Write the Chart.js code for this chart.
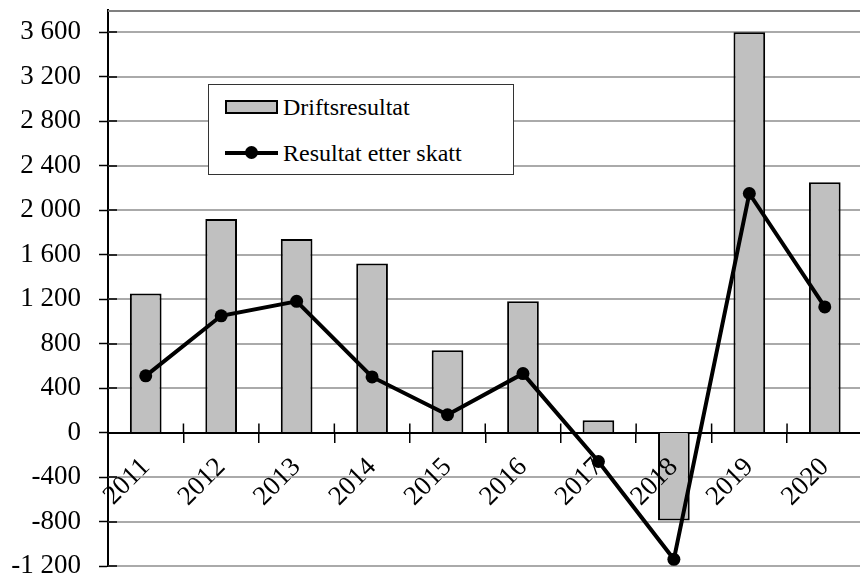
<!DOCTYPE html>
<html><head><meta charset="utf-8">
<script src="https://cdn.jsdelivr.net/npm/chart.js@4/dist/chart.umd.min.js"></script>
<style>
html,body{margin:0;padding:0;background:#fff;overflow:hidden;}
#wrap{position:relative;width:860px;height:577px;overflow:hidden;}
#c{position:absolute;left:0;top:0;}
#legend{position:absolute;left:208px;top:84px;width:306px;height:91px;border:1.5px solid #333;background:#fff;box-sizing:border-box;font-family:"Liberation Serif","Times New Roman",serif;font-size:24px;color:#000;}
.item{position:absolute;left:16px;height:30px;display:flex;align-items:center;white-space:nowrap;}
.sw{position:relative;width:53px;height:30px;margin-right:5px;}
.sw.bar::after{content:"";position:absolute;left:0;top:8px;width:53px;height:14px;box-sizing:border-box;border:2px solid #000;background:#c0c0c0;}
.sw.line::before{content:"";position:absolute;left:0;top:13px;width:53px;height:4px;background:#000;}
.sw.line::after{content:"";position:absolute;left:20px;top:8px;width:13px;height:13px;border-radius:50%;background:#000;}
</style>
</head><body>
<div id="wrap"><canvas id="c" width="869" height="577"></canvas><div id="legend"></div></div>
<script>
const years = ['2011','2012','2013','2014','2015','2016','2017','2018','2019','2020'];
const driftsresultat = [1250, 1920, 1740, 1520, 740, 1180, 110, -790, 3600, 2250];
const resultatEtterSkatt = [510, 1050, 1180, 500, 160, 530, -260, -1140, 2150, 1130];
const yMin = -1200, yMax = 3800, yStep = 400, yLabelMax = 3600;

const serif = '"Liberation Serif","Times New Roman",serif';
function fmt(v){
  const s = Math.abs(v).toString().replace(/\B(?=(\d{3})+(?!\d))/g, ' ');
  return (v < 0 ? '-' : '') + s;
}

const axisDecor = {
  id: 'axisDecor',
  beforeDatasetsDraw(chart){
    const ctx = chart.ctx, y = chart.scales.y, a = chart.chartArea;
    ctx.save();
    ctx.lineWidth = 2;
    ctx.strokeStyle = '#aaaaaa';
    ctx.beginPath();
    y.ticks.forEach(t => {
      if (t.value === 0) return;
      const py = Math.round(y.getPixelForValue(t.value)) ;
      ctx.moveTo(a.left, py); ctx.lineTo(a.right, py);
    });
    ctx.stroke();
    ctx.strokeStyle = '#808080';
    ctx.beginPath();
    ctx.moveTo(a.left, a.top + 1); ctx.lineTo(a.right, a.top + 1);
    ctx.stroke();
    ctx.restore();
  },
  afterDraw(chart){
    const ctx = chart.ctx, x = chart.scales.x, y = chart.scales.y;
    const x0 = y.right, y0 = y.getPixelForValue(0);
    ctx.save();
    ctx.strokeStyle = '#000';
    ctx.lineWidth = 1.5;
    ctx.beginPath();
    y.ticks.forEach(t => {
      const py = Math.round(y.getPixelForValue(t.value));
      ctx.moveTo(x0, py); ctx.lineTo(x0 + 9, py);
    });
    for (let i = 1; i <= years.length; i++) {
      const px = x.getPixelForValue(i - 0.5);
      ctx.moveTo(px, y0 - 9); ctx.lineTo(px, y0);
    }
    ctx.stroke();
    ctx.restore();
  }
};

const chart = new Chart(document.getElementById('c'), {
  data: {
    labels: years,
    datasets: [
      {
        type: 'line', label: 'Resultat etter skatt', data: resultatEtterSkatt, order: 0,
        borderColor: '#000', backgroundColor: '#000', borderWidth: 4,
        pointRadius: 6.5, pointBackgroundColor: '#000', pointBorderWidth: 0, tension: 0
      },
      {
        type: 'bar', label: 'Driftsresultat', data: driftsresultat, order: 1,
        backgroundColor: '#c0c0c0', borderColor: '#000', borderWidth: 2,
        categoryPercentage: 1, barPercentage: 0.42
      }
    ]
  },
  options: {
    responsive: false,
    animation: false,
    layout: { padding: { left: 0, right: 0, top: 10, bottom: 11 } },
    plugins: { legend: { display: false }, tooltip: { enabled: false } },
    scales: {
      x: {
        type: 'category', offset: true, position: { y: 0 },
        afterFit(s){ s.height = 0; s.paddingLeft = 0; s.paddingRight = 0; },
        grid: { drawOnChartArea: false, offset: true, tickLength: 9, color: '#000', lineWidth: 1.5 },
        border: { color: '#000', width: 2 },
        ticks: { color: '#000', font: { family: serif, size: 27 }, minRotation: 45, maxRotation: 45, padding: 10, z: 1 }
      },
      y: {
        min: yMin, max: yMax,
        afterFit(s){ s.width = 108; s.paddingTop = 0; s.paddingBottom = 0; },
        afterBuildTicks(s){
          const t = [];
          for (let v = yMin; v <= yLabelMax; v += yStep) t.push({ value: v });
          s.ticks = t;
        },
        grid: { drawOnChartArea: false, tickLength: 9, tickColor: '#000', tickWidth: 1.5 },
        border: { color: '#000', width: 2 },
        ticks: {
          color: '#000', font: { family: serif, size: 27 }, padding: 18,
          callback: v => fmt(v)
        }
      }
    }
  },
  plugins: [axisDecor]
});

// HTML legend built from datasets
const lg = document.getElementById('legend');
[1, 0].forEach((di, row) => {
  const ds = chart.data.datasets[di];
  const it = document.createElement('div');
  it.className = 'item';
  it.style.top = (row === 0 ? 7 : 53) + 'px';
  const sw = document.createElement('div');
  sw.className = 'sw ' + ds.type;
  const tx = document.createElement('span');
  tx.textContent = ds.label;
  it.appendChild(sw); it.appendChild(tx);
  lg.appendChild(it);
});
</script>
</body></html>
